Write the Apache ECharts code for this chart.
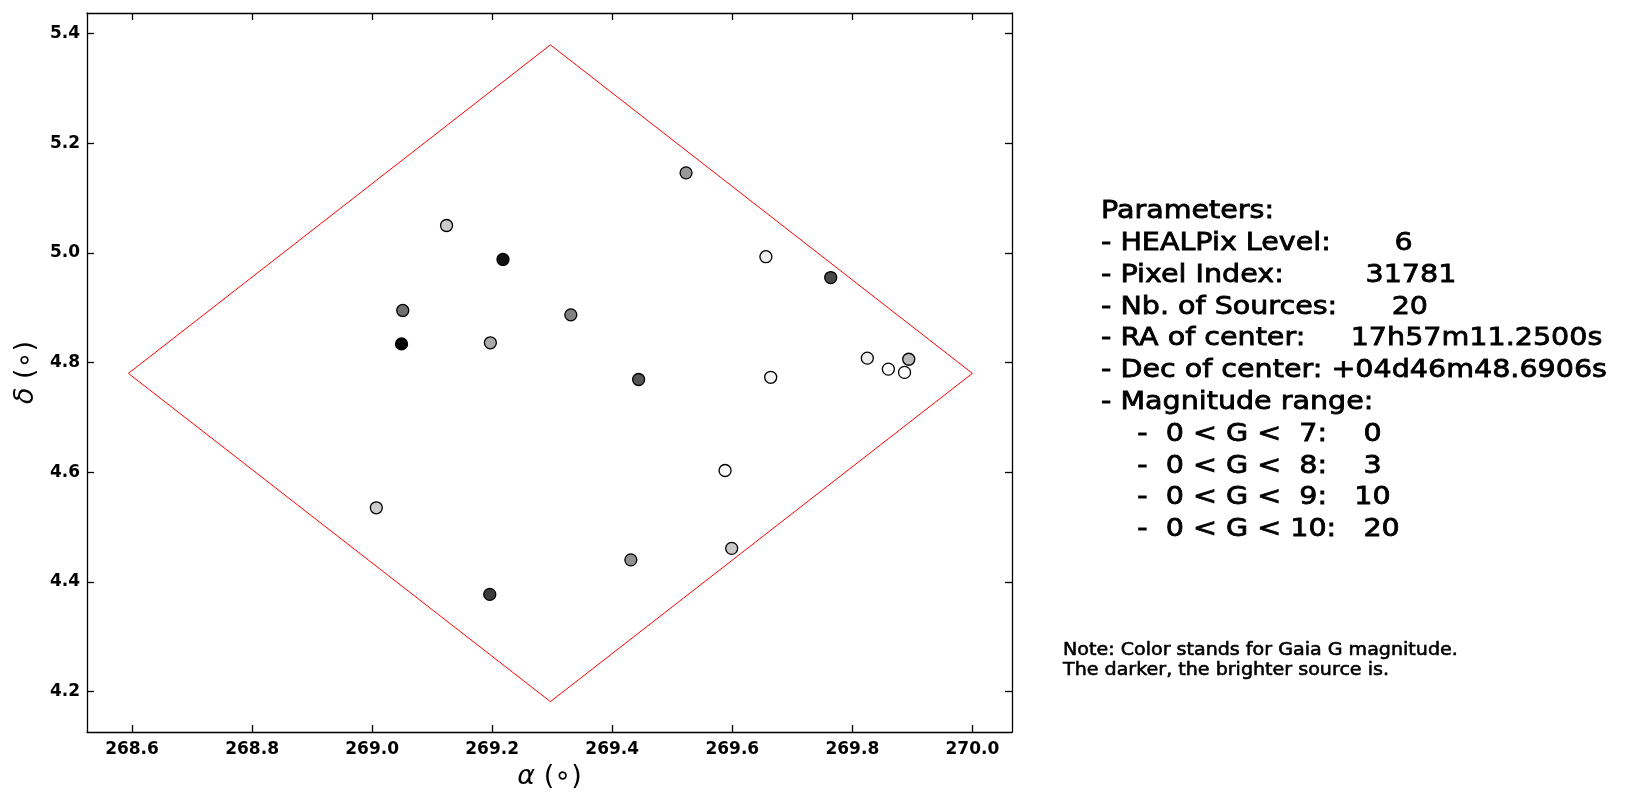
<!DOCTYPE html>
<html>
<head>
<meta charset="utf-8">
<script src="https://cdn.jsdelivr.net/npm/echarts@6/dist/echarts.min.js"></script>
<style>
  html, body { margin: 0; padding: 0; background: #fff; }
  #main { width: 1630px; height: 809px; }
</style>
</head>
<body>
<div id="main"></div>
<script>
// HEALPix pixel corners (closed polygon)
var cornerRa  = [268.594, 269.297, 270.000, 269.297, 268.594];
var cornerDec = [4.7802, 5.3795, 4.7802, 4.1814, 4.7802];

// Gaia sources: RA, Dec (deg) and G magnitude
var srcRa  = [269.523, 269.218, 269.656, 269.764, 269.331, 269.444, 269.664, 269.825, 269.860, 269.894,
              269.887, 269.124, 269.051, 269.049, 269.197, 269.007, 269.588, 269.431, 269.599, 269.196];
var srcDec = [5.146, 4.988, 4.993, 4.955, 4.887, 4.769, 4.773, 4.808, 4.788, 4.806,
              4.782, 5.050, 4.895, 4.834, 4.836, 4.535, 4.603, 4.440, 4.461, 4.377];
var srcMag = [8.80, 7.47, 9.63, 8.02, 8.55, 8.13, 9.69, 9.63, 9.80, 9.13,
              9.80, 9.30, 8.40, 7.30, 8.97, 9.31, 9.75, 8.72, 9.26, 7.89];

var xTicks = [268.6, 268.8, 269.0, 269.2, 269.4, 269.6, 269.8, 270.0];
var yTicks = [4.2, 4.4, 4.6, 4.8, 5.0, 5.2, 5.4];

var paramLines = [
  'Parameters:',
  '- HEALPix Level:       6',
  '- Pixel Index:         31781',
  '- Nb. of Sources:      20',
  '- RA of center:     17h57m11.2500s',
  '- Dec of center: +04d46m48.6906s',
  '- Magnitude range:',
  '    -  0 < G <  7:    0',
  '    -  0 < G <  8:    3',
  '    -  0 < G <  9:   10',
  '    -  0 < G < 10:   20'
];
var noteLines = [
  'Note: Color stands for Gaia G magnitude.',
  'The darker, the brighter source is.'
];

var corners = cornerRa.map(function (r, i) { return [r, cornerDec[i]]; });
var sources = srcRa.map(function (r, i) { return [r, srcDec[i], srcMag[i]]; });

var FONT = '"DejaVu Sans", sans-serif';

var graphics = [];
paramLines.forEach(function (t, i) {
  graphics.push({
    type: 'text', x: 1101, y: 211.5 + 31.8 * i, scaleX: 1.12,
    style: { text: t, x: 0, y: 0, fill: '#000', stroke: '#000', lineWidth: 0.8,
             verticalAlign: 'middle', font: '25.5px ' + FONT }
  });
});
noteLines.forEach(function (t, i) {
  graphics.push({
    type: 'text', x: 1063, y: 650.7 + 19.5 * i, scaleX: 1.06,
    style: { text: t, x: 0, y: 0, fill: '#000', stroke: '#000', lineWidth: 0.6,
             verticalAlign: 'middle', font: '18px ' + FONT }
  });
});

var axLine = { show: true, onZero: false, lineStyle: { color: '#000', width: 1.3 } };
var tick = function (vals) {
  return { show: true, inside: true, length: 7, customValues: vals,
           lineStyle: { color: '#000', width: 1.3 } };
};
var tickLabel = function (vals, margin) {
  return { customValues: vals, margin: margin, color: '#000', fontSize: 17,
           fontWeight: 'bold', fontFamily: FONT,
           formatter: function (v) { return v.toFixed(1); } };
};
var nameStyle = {
  color: '#000', fontSize: 27, fontFamily: FONT,
  rich: { i: { fontStyle: 'italic', fontSize: 27, fontFamily: FONT } }
};

var option = {
  backgroundColor: '#fff',
  animation: false,
  grid: { left: 87, top: 13, width: 925, height: 719, outerBoundsMode: 'none' },
  visualMap: {
    show: false, type: 'continuous', seriesIndex: 1, dimension: 2,
    min: 7.3, max: 9.8, inRange: { color: ['#000000', '#ffffff'] }
  },
  xAxis: [{
    type: 'value', min: 268.525, max: 270.066, position: 'bottom',
    axisLine: axLine, axisTick: tick(xTicks), splitLine: { show: false },
    axisLabel: tickLabel(xTicks, 9),
    name: '{i|α} (∘)', nameLocation: 'middle', nameGap: 31, nameTextStyle: nameStyle
  }, {
    type: 'value', min: 268.525, max: 270.066, position: 'top',
    axisLine: axLine, axisTick: tick(xTicks), axisLabel: { show: false }, splitLine: { show: false }
  }],
  yAxis: [{
    type: 'value', min: 4.126, max: 5.4376, position: 'left',
    axisLine: axLine, axisTick: tick(yTicks), splitLine: { show: false },
    axisLabel: tickLabel(yTicks, 7),
    name: '{i|δ} (∘)', nameLocation: 'middle', nameGap: 47, nameRotate: 90,
    nameTextStyle: nameStyle
  }, {
    type: 'value', min: 4.126, max: 5.4376, position: 'right',
    axisLine: axLine, axisTick: tick(yTicks), axisLabel: { show: false }, splitLine: { show: false }
  }],
  series: [{
    type: 'line', data: corners, symbol: 'none', z: 2,
    lineStyle: { color: '#ff0000', width: 1 }
  }, {
    type: 'scatter', data: sources, symbolSize: 12, z: 3,
    itemStyle: { borderColor: '#000', borderWidth: 1.3, opacity: 1 }
  }],
  graphic: graphics
};

var myChart = echarts.init(document.getElementById('main'));
myChart.setOption(option);
</script>
</body>
</html>
